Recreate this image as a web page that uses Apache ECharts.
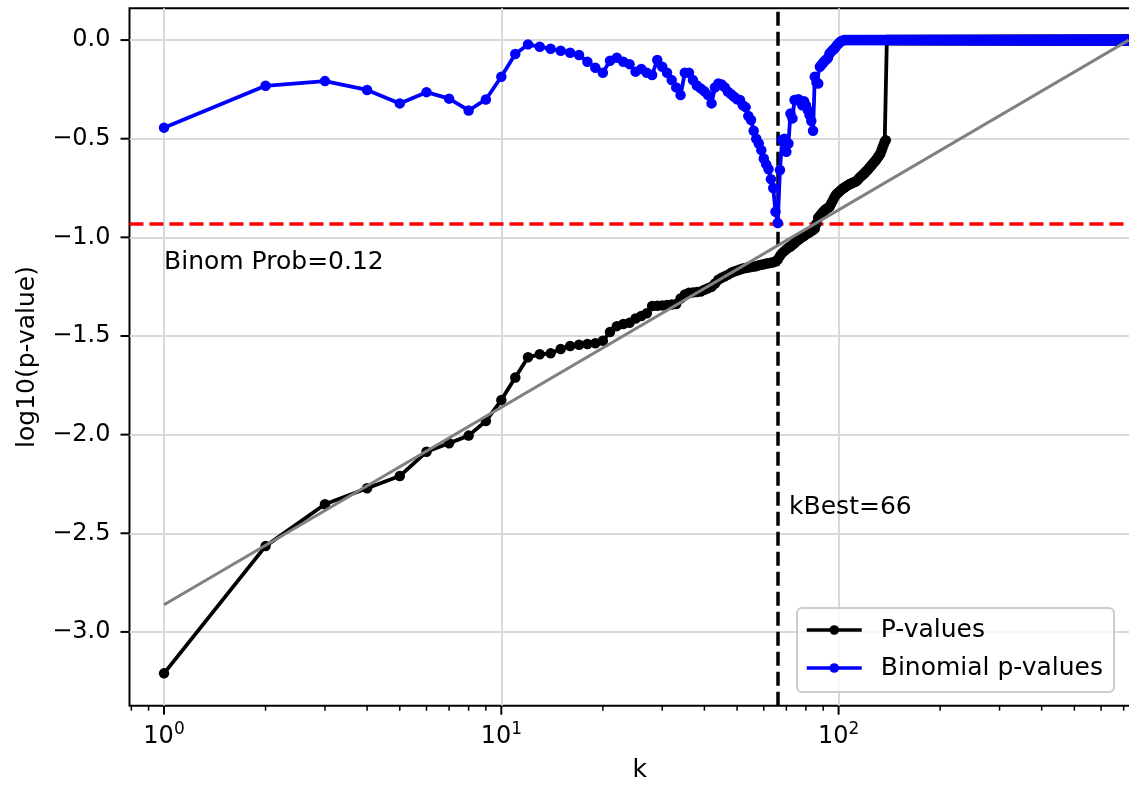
<!DOCTYPE html>
<html><head><meta charset="utf-8">
<script src="https://cdn.jsdelivr.net/npm/echarts@6/dist/echarts.min.js"></script>
<style>html,body{margin:0;padding:0;background:#fff}#c{width:1129px;height:786px}</style>
</head><body><div id="c"></div>
<script>
// ---------------- data ----------------
const N = 725;                 // number of k values (last k)
// log10 sorted p-values, k = 1..138 (from k = 139 on the curve sits at 0)
const pValuesHead = [
 -3.210,-2.565,-2.353,-2.272,-2.210,-2.087,-2.044,-2.005,-1.931,-1.825,
 -1.710,-1.608,-1.593,-1.588,-1.566,-1.551,-1.544,-1.541,-1.537,-1.524,
 -1.480,-1.450,-1.439,-1.433,-1.411,-1.399,-1.385,-1.348,-1.347,-1.345,
 -1.343,-1.341,-1.338,-1.310,-1.290,-1.281,-1.279,-1.277,-1.275,-1.266,
 -1.258,-1.250,-1.234,-1.215,-1.205,-1.197,-1.189,-1.180,-1.173,-1.168,
 -1.163,-1.158,-1.155,-1.153,-1.150,-1.148,-1.146,-1.142,-1.139,-1.136,
 -1.133,-1.131,-1.129,-1.126,-1.123,-1.112,-1.095,-1.080,-1.070,-1.060,
 -1.052,-1.046,-1.038,-1.030,-1.020,-1.012,-1.005,-0.998,-0.993,-0.985,
 -0.979,-0.974,-0.968,-0.963,-0.955,-0.930,-0.900,-0.890,-0.880,-0.870,
 -0.862,-0.855,-0.850,-0.845,-0.830,-0.815,-0.800,-0.787,-0.778,-0.772,
 -0.765,-0.758,-0.752,-0.747,-0.743,-0.738,-0.734,-0.730,-0.727,-0.724,
 -0.721,-0.718,-0.714,-0.708,-0.700,-0.694,-0.688,-0.682,-0.676,-0.670,
 -0.664,-0.657,-0.650,-0.643,-0.636,-0.629,-0.622,-0.615,-0.608,-0.600,
 -0.592,-0.584,-0.575,-0.560,-0.545,-0.530,-0.515,-0.508
];
const pValuesTailLevel = 0;     // flat level read for k = 139..N
// log10 binomial p-values, k = 1..103 (from k = 104 on the curve sits at 0)
const binomHead = [
 -0.444,-0.232,-0.208,-0.253,-0.321,-0.264,-0.297,-0.357,-0.301,-0.186,
 -0.071,-0.022,-0.034,-0.044,-0.054,-0.064,-0.076,-0.110,-0.140,-0.166,
 -0.105,-0.090,-0.110,-0.122,-0.160,-0.147,-0.166,-0.177,-0.101,-0.135,
 -0.166,-0.203,-0.240,-0.279,-0.166,-0.166,-0.203,-0.230,-0.245,-0.260,
 -0.279,-0.321,-0.240,-0.220,-0.225,-0.240,-0.262,-0.275,-0.287,-0.300,
 -0.304,-0.330,-0.340,-0.385,-0.405,-0.460,-0.500,-0.524,-0.558,-0.600,
 -0.630,-0.655,-0.705,-0.750,-0.870,-0.927,-0.659,-0.507,-0.500,-0.566,
 -0.524,-0.372,-0.397,-0.304,-0.304,-0.300,-0.310,-0.330,-0.310,-0.330,
 -0.355,-0.380,-0.410,-0.460,-0.186,-0.215,-0.220,-0.135,-0.125,-0.115,
 -0.105,-0.098,-0.090,-0.068,-0.060,-0.051,-0.045,-0.035,-0.025,-0.017,
 -0.010,-0.005,-0.002
];
const binomTailLevel = 0;       // flat level read for k = 104..N
// straight reference line (grey), its two end points
const refLineK = [1, 725];
const refLineV = [-2.862, 0];
const kBest = 66;
const binomProb = 0.12;
const binomProbLog = -0.929;    // red dashed level
const binomTextPos = [1, -1.125];
const kBestTextPos = [71.3, -2.37];

const xMin = 0.79, xMax = 838;
const yMin = -3.374, yMax = 0.161;
const xMajorTicks = [1, 10, 100];
const xMajorExps = ['0', '1', '2'];
const xMinorTicks = [0.8, 0.9, 2, 3, 4, 5, 6, 7, 8, 9, 20, 30, 40, 50, 60, 70, 80, 90,
                     200, 300, 400, 500, 600, 700, 800];
const yTickValues = [0, -0.5, -1, -1.5, -2, -2.5, -3];
const yTickLabels = ['0.0', '\u22120.5', '\u22121.0', '\u22121.5', '\u22122.0', '\u22122.5', '\u22123.0'];

// ---------------- build ----------------
function toPairs(head, tailLevel) {
  const out = head.map((v, i) => [i + 1, v]);
  for (let k = head.length + 1; k <= N; k++) out.push([k, tailLevel]);
  return out;
}
const pData = toPairs(pValuesHead, pValuesTailLevel);
const bData = toPairs(binomHead, binomTailLevel);
const FONT = 'DejaVu Sans';
const DOT = 10.5;

const chart = echarts.init(document.getElementById('c'), null, {renderer: 'canvas'});
const option = {
  animation: false,
  backgroundColor: '#ffffff',
  grid: {left: 129.5, top: 8.3, width: 1020.5, height: 697.4, show: true,
         borderColor: '#000', borderWidth: 2, backgroundColor: 'transparent',
         containLabel: false, outerBoundsMode: 'none'},
  legend: {
    data: ['P-values', 'Binomial p-values'],
    orient: 'vertical', left: 797, top: 608, z: 20,
    padding: [8, 11, 10, 8],
    itemWidth: 55, itemHeight: 12, itemGap: 10,
    backgroundColor: 'rgba(255,255,255,0.8)',
    borderColor: '#cccccc', borderWidth: 2, borderRadius: 5,
    selectedMode: false,
    lineStyle: {width: 3.5},
    itemStyle: {borderWidth: 0},
    textStyle: {fontSize: 25, fontFamily: FONT, color: '#000', padding: [0, 0, 0, 14], lineHeight: 28}
  },
  xAxis: {
    type: 'log', logBase: 10, min: xMin, max: xMax,
    name: 'k', nameLocation: 'middle', nameGap: 52,
    nameTextStyle: {fontSize: 25, fontFamily: FONT, color: '#000'},
    axisLine: {show: false}, axisTick: {show: false}, splitLine: {show: false}, minorTick: {show: false},
    axisLabel: {
      margin: 15, hideOverlap: false,
      formatter: function (v) {
        const idx = xMajorTicks.findIndex(t => Math.abs(t - v) / t < 1e-6);
        return idx >= 0 ? '{b|10}{s|' + xMajorExps[idx] + '}' : '';
      },
      rich: {
        b: {fontSize: 24, fontFamily: FONT, color: '#000', lineHeight: 28, verticalAlign: 'bottom'},
        s: {fontSize: 17, fontFamily: FONT, color: '#000', lineHeight: 16, verticalAlign: 'top'}
      }
    }
  },
  yAxis: {
    type: 'value', min: yMin, max: yMax,
    name: 'log10(p-value)', nameLocation: 'middle', nameGap: 90,
    nameTextStyle: {fontSize: 25, fontFamily: FONT, color: '#000'},
    axisLine: {show: false}, axisTick: {show: false}, splitLine: {show: false},
    axisLabel: {
      margin: 19, fontSize: 24, fontFamily: FONT, color: '#000',
      customValues: yTickValues,
      formatter: function (v) {
        const idx = yTickValues.findIndex(t => Math.abs(t - v) < 1e-6);
        return idx >= 0 ? yTickLabels[idx] : '';
      }
    }
  },
  series: [
    { // grid lines
      type: 'line', name: 'grid', data: [[1, yMin]], showSymbol: false, silent: true, z: 1,
      lineStyle: {opacity: 0},
      markLine: {
        z: 1, silent: true, symbol: 'none', label: {show: false}, animation: false,
        lineStyle: {color: '#d9d9d9', width: 2, type: 'solid'},
        data: xMajorTicks.map(v => ({xAxis: v})).concat(yTickValues.map(v => ({yAxis: v})))
      }
    },
    { // dashed reference lines
      type: 'line', name: 'refs', data: [[1, yMin]], showSymbol: false, silent: true, z: 2,
      lineStyle: {opacity: 0},
      markLine: {
        z: 2, silent: true, symbol: 'none', label: {show: false}, animation: false,
        data: [
          {yAxis: binomProbLog, lineStyle: {color: '#ff0000', width: 3.5, type: [14, 6]}},
          {xAxis: kBest, lineStyle: {color: '#000000', width: 3.5, type: [14, 6]}}
        ]
      }
    },
    {
      type: 'line', name: 'P-values', data: pData, z: 3,
      symbol: 'circle', symbolSize: DOT, showSymbol: true,
      color: '#000000', itemStyle: {color: '#000000', borderWidth: 0},
      lineStyle: {color: '#000000', width: 3.8}, emphasis: {disabled: true}, silent: true
    },
    {
      type: 'line', name: 'Binomial p-values', data: bData, z: 4,
      symbol: 'circle', symbolSize: DOT, showSymbol: true,
      color: '#0000ff', itemStyle: {color: '#0000ff', borderWidth: 0},
      lineStyle: {color: '#0000ff', width: 3.8}, emphasis: {disabled: true}, silent: true
    },
    {
      type: 'line', name: 'ref', data: refLineK.map((k, i) => [k, refLineV[i]]), z: 5,
      showSymbol: false, lineStyle: {color: '#808080', width: 3}, silent: true
    },
    { // annotations
      type: 'scatter', name: 'notes', z: 6, silent: true,
      symbolSize: 0.1, itemStyle: {color: 'rgba(0,0,0,0)'},
      data: [
        {value: binomTextPos, label: {formatter: 'Binom Prob=' + binomProb}},
        {value: kBestTextPos, label: {formatter: 'kBest=' + kBest}}
      ],
      label: {show: true, position: 'right', distance: 0, fontSize: 25, fontFamily: FONT,
              color: '#000000', opacity: 1, align: 'left', verticalAlign: 'middle'}
    },
    { // x ticks
      type: 'custom', name: 'xticks', coordinateSystem: 'cartesian2d', clip: false, silent: true, z: 7,
      data: xMajorTicks.map(v => [v, yMin, 9, 2]).concat(xMinorTicks.map(v => [v, yMin, 5, 1.5])),
      renderItem: function (params, api) {
        const p = api.coord([api.value(0), api.value(1)]);
        return {type: 'line', shape: {x1: p[0], y1: p[1], x2: p[0], y2: p[1] + api.value(2)},
                style: {stroke: '#000', lineWidth: api.value(3)}};
      }
    },
    { // y ticks
      type: 'custom', name: 'yticks', coordinateSystem: 'cartesian2d', clip: false, silent: true, z: 7,
      data: yTickValues.map(v => [xMin, v]),
      renderItem: function (params, api) {
        const p = api.coord([api.value(0), api.value(1)]);
        return {type: 'line', shape: {x1: p[0], y1: p[1], x2: p[0] - 9, y2: p[1]},
                style: {stroke: '#000', lineWidth: 2}};
      }
    }
  ]
};
chart.setOption(option);
</script>
</body></html>
